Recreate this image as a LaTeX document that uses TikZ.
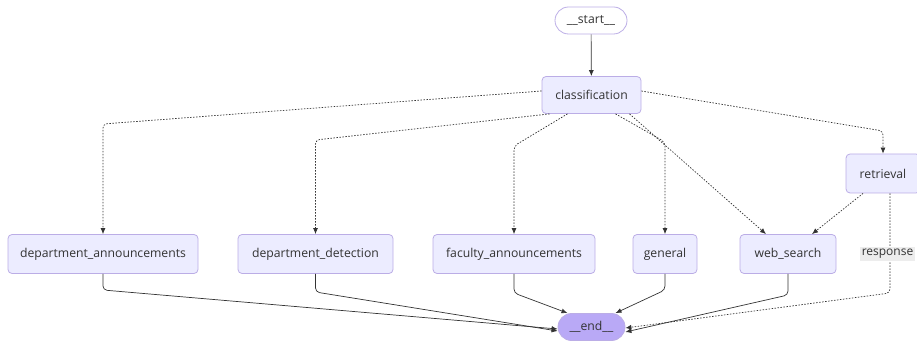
\documentclass[tikz,border=0pt]{standalone}
\usepackage{fontspec}
\setmainfont{Open Sans}
\usetikzlibrary{arrows.meta,calc}
\definecolor{nfill}{HTML}{ECECFF}
\definecolor{nline}{HTML}{BBADE6}
\definecolor{efill}{HTML}{B9A9F6}
\definecolor{tcol}{HTML}{333333}
\definecolor{ecol}{HTML}{333333}
\tikzset{
  box/.style={draw=nline, fill=nfill, rounded corners=4pt, line width=0.8pt, text=tcol,
    minimum height=39pt, inner sep=0pt, font=\fontsize{12.2}{14}\selectfont},
  term/.style={draw=nline, line width=0.8pt, text=tcol, rounded corners=13.5pt,
    minimum height=27pt, inner sep=0pt, font=\fontsize{12.2}{14}\selectfont},
  solidedge/.style={draw=ecol, line width=0.7pt, -{Latex[length=6pt,width=5pt]}, rounded corners=4pt},
  dotedge/.style={draw=ecol, line width=0.7pt, dash pattern=on 1.5pt off 1.5pt, -{Latex[length=6pt,width=5pt]}, rounded corners=4pt},
  lbl/.style={fill=black!7, text=tcol, inner sep=2pt, font=\fontsize{12}{14}\selectfont}
}
\begin{document}
\begin{tikzpicture}[x=1pt,y=-1pt]
\useasboundingbox (0,0) rectangle (917,344);
\node[term, fill=white, minimum width=72pt] (start) at (591,20.5) {\_\_start\_\_};
\node[box, minimum width=99pt, minimum height=37pt] (cls) at (591.5,95) {classification};
\node[box, minimum width=190pt] (da) at (103,254) {department\_announcements};
\node[box, minimum width=155pt] (dd) at (315.5,254) {department\_detection};
\node[box, minimum width=162pt] (fa) at (514,254) {faculty\_announcements};
\node[box, minimum width=64pt] (gen) at (665,254) {general};
\node[box, minimum width=96pt] (ws) at (788,254) {web\_search};
\node[box, minimum width=74pt] (ret) at (883,173.5) {retrieval};
\node[term, fill=efill, minimum width=67pt] (end) at (591.5,327) {\_\_end\_\_};

\draw[solidedge, rounded corners=0pt] (start) -- (cls);
% conditional edges from classification
\draw[dotedge] ([yshift=4pt]cls.west) -- (103,124) -- (da.north);
\draw[dotedge] ([xshift=-42pt]cls.south) -- (315.5,140) -- (dd.north);
\draw[dotedge] ([xshift=-24pt]cls.south) -- (514,146) -- (fa.north);
\draw[dotedge] ([xshift=24pt]cls.south) -- (665,142) -- (gen.north);
\draw[dotedge] ([xshift=38pt]cls.south) -- ([xshift=-22pt]ws.north);
\draw[dotedge] ([yshift=4pt]cls.east) -- (883,131) -- (ret.north);
% retrieval edges
\draw[dotedge] ([xshift=-20pt]ret.south) -- ([xshift=24pt]ws.north);
\draw[dotedge] ([xshift=7pt]ret.south) -- (890,232) -- (890,293) -- ([yshift=-1pt]end.east);
\node[lbl, anchor=east] (resp) at (915.5,254) {response};
% edges to end
\draw[solidedge] (da.south) -- (103,290) -- ([yshift=-2pt]end.west);
\draw[solidedge] (dd.south) -- (315.5,292) -- ([yshift=-4pt]end.west);
\draw[solidedge] (fa.south) -- (514,293) -- ([xshift=-24pt]end.north);
\draw[solidedge] (gen.south) -- (665,290) -- ([xshift=24pt]end.north);
\draw[solidedge] (ws.south) -- (788,295) -- ([yshift=-5pt]end.east);
\end{tikzpicture}
\end{document}
